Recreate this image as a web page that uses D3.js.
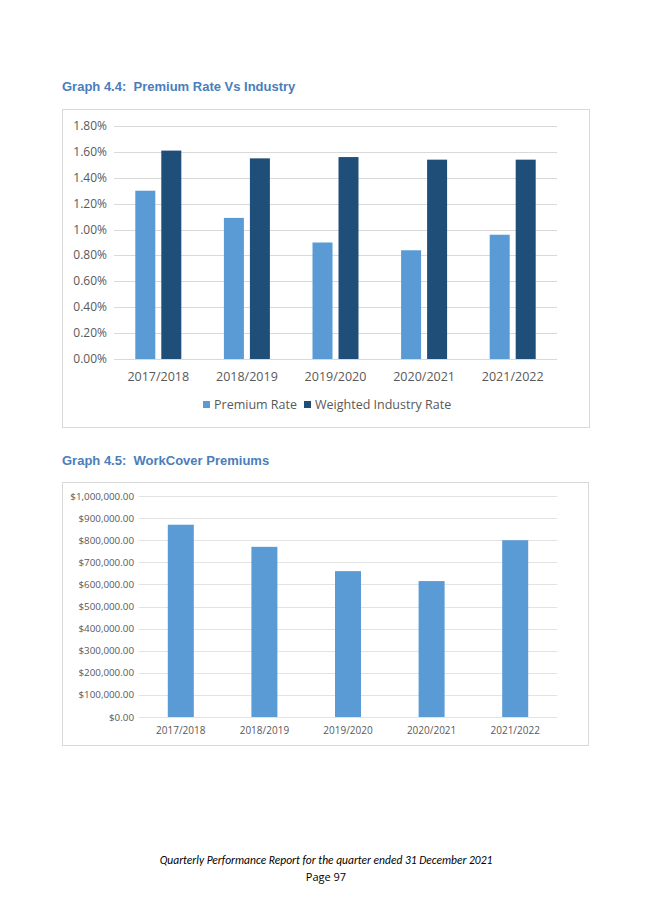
<!doctype html>
<html>
<head>
<meta charset="utf-8">
<script src="https://cdnjs.cloudflare.com/ajax/libs/d3/7.8.5/d3.min.js"></script>
<style>
  body { margin: 0; background: #fff; }
  text { font-family: "Open Sans", "DejaVu Sans", sans-serif; white-space: pre; }
</style>
</head>
<body>
<svg id="page" width="653" height="923"></svg>
<script>
// data
const years = ['2017/2018', '2018/2019', '2019/2020', '2020/2021', '2021/2022'];
const premiumRate = [1.30, 1.09, 0.90, 0.84, 0.96];
const industryRate = [1.61, 1.55, 1.56, 1.54, 1.54];
const rateTicks = [0, 0.2, 0.4, 0.6, 0.8, 1.0, 1.2, 1.4, 1.6, 1.8];
const premiums = [870000, 770000, 660000, 615000, 800000];
const premiumTicks = d3.range(0, 1000001, 100000);

const svg = d3.select('#page');
const light = '#5b9bd5', dark = '#1f4e79';

// titles
svg.append('text').attr('x', 62).attr('y', 91).text('Graph 4.4:  Premium Rate Vs Industry')
  .style('font-family', 'Arial, "Liberation Sans", sans-serif').style('font-weight', 700)
  .style('font-size', '13px').style('fill', '#4a7ebb');
svg.append('text').attr('x', 62).attr('y', 465).text('Graph 4.5:  WorkCover Premiums')
  .style('font-family', 'Arial, "Liberation Sans", sans-serif').style('font-weight', 700)
  .style('font-size', '13px').style('fill', '#4a7ebb');

// chart 1 box
svg.append('rect').attr('x', 62.5).attr('y', 109.5).attr('width', 527).attr('height', 318)
  .attr('fill', 'none').attr('stroke', '#d9d9d9');

const x1 = d3.scaleBand().domain(years).range([114, 557]);
const y1 = d3.scaleLinear().domain([0, 1.8]).range([359, 126]);

const g1 = svg.append('g');
g1.selectAll('line.grid').data(rateTicks).join('line')
  .attr('x1', 114).attr('x2', 557)
  .attr('y1', d => Math.round(y1(d)) + 0.5).attr('y2', d => Math.round(y1(d)) + 0.5)
  .attr('stroke', '#d9d9d9');
g1.selectAll('text.tick').data(rateTicks).join('text')
  .attr('x', 107).attr('y', d => y1(d) + 4).attr('text-anchor', 'end')
  .style('font-size', '12px').style('fill', '#595959')
  .text(d => d.toFixed(2) + '%');

const bw = 20;
g1.selectAll('rect.p').data(years).join('rect')
  .attr('x', d => x1(d) + x1.bandwidth() / 2 - bw - 3)
  .attr('y', (d, i) => y1(premiumRate[i]))
  .attr('width', bw).attr('height', (d, i) => y1(0) - y1(premiumRate[i]))
  .attr('fill', light);
g1.selectAll('rect.w').data(years).join('rect')
  .attr('x', d => x1(d) + x1.bandwidth() / 2 + 3)
  .attr('y', (d, i) => y1(industryRate[i]))
  .attr('width', bw).attr('height', (d, i) => y1(0) - y1(industryRate[i]))
  .attr('fill', dark);
g1.selectAll('text.cat').data(years).join('text')
  .attr('x', d => x1(d) + x1.bandwidth() / 2).attr('y', 381).attr('text-anchor', 'middle')
  .style('font-size', '12.5px').style('fill', '#595959').text(d => d);

// legend
const legend = [{ name: 'Premium Rate', color: light, x: 203 }, { name: 'Weighted Industry Rate', color: dark, x: 304 }];
legend.forEach(l => {
  svg.append('rect').attr('x', l.x).attr('y', 401).attr('width', 7).attr('height', 7).attr('fill', l.color);
  svg.append('text').attr('x', l.x + 11).attr('y', 409).style('font-size', '12.5px').style('fill', '#595959').text(l.name);
});

// chart 2 box
svg.append('rect').attr('x', 62.5).attr('y', 482.5).attr('width', 526).attr('height', 263)
  .attr('fill', 'none').attr('stroke', '#d9d9d9');

const x2 = d3.scaleBand().domain(years).range([139, 557]);
const y2 = d3.scaleLinear().domain([0, 1000000]).range([717, 496]);
const fmt = d3.format('$,.2f');

const g2 = svg.append('g');
g2.selectAll('line.grid').data(premiumTicks).join('line')
  .attr('x1', 139).attr('x2', 557)
  .attr('y1', d => Math.round(y2(d)) + 0.5).attr('y2', d => Math.round(y2(d)) + 0.5)
  .attr('stroke', '#e3e3e3');
g2.selectAll('text.tick').data(premiumTicks).join('text')
  .attr('x', 134).attr('y', d => y2(d) + 3.5).attr('text-anchor', 'end')
  .style('font-size', '9.8px').style('fill', '#595959').text(d => fmt(d));
g2.selectAll('rect.b').data(years).join('rect')
  .attr('x', d => x2(d) + x2.bandwidth() / 2 - 13)
  .attr('y', (d, i) => y2(premiums[i]))
  .attr('width', 26).attr('height', (d, i) => y2(0) - y2(premiums[i]))
  .attr('fill', light);
g2.selectAll('text.cat').data(years).join('text')
  .attr('x', d => x2(d) + x2.bandwidth() / 2).attr('y', 734).attr('text-anchor', 'middle')
  .style('font-size', '10px').style('fill', '#595959').text(d => d);

// footer
svg.append('text').attr('x', 326).attr('y', 864).attr('text-anchor', 'middle')
  .style('font-family', 'Carlito, "Open Sans", sans-serif').style('font-style', 'italic')
  .style('font-size', '11.5px').style('fill', '#000')
  .text('Quarterly Performance Report for the quarter ended 31 December 2021');
svg.append('text').attr('x', 326).attr('y', 881).attr('text-anchor', 'middle')
  .style('font-size', '11px').style('fill', '#000').text('Page 97');
</script>
</body>
</html>
